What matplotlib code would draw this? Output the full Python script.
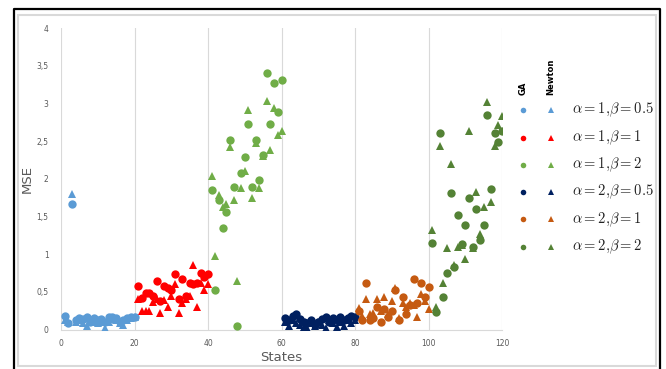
import numpy as np
import matplotlib
matplotlib.use("Agg")
import matplotlib.pyplot as plt
from matplotlib.lines import Line2D
from matplotlib.patches import Rectangle

plt.rcParams["mathtext.fontset"] = "cm"

# Parameter settings, one block of 20 states each
labels = [r"$\alpha{=}1{,}\beta{=}0.5$", r"$\alpha{=}1{,}\beta{=}1$", r"$\alpha{=}1{,}\beta{=}2$",
          r"$\alpha{=}2{,}\beta{=}0.5$", r"$\alpha{=}2{,}\beta{=}1$", r"$\alpha{=}2{,}\beta{=}2$"]
colors = ["#5B9BD5", "#FF0000", "#70AD47", "#002060", "#C55A11", "#548235"]

ga_a1_b05 = [0.18, 0.08, 1.66, 0.12, 0.15, 0.14, 0.16, 0.10, 0.15, 0.13,
             0.14, 0.10, 0.16, 0.17, 0.15, 0.10, 0.13, 0.15, 0.17, 0.16]
nt_a1_b05 = [0.12, 0.10, 1.80, 0.10, 0.12, 0.08, 0.05, 0.12, 0.10, 0.08,
             0.10, 0.02, 0.10, 0.14, 0.12, 0.08, 0.06, 0.12, 0.15, 0.16]

ga_a1_b1 = [0.58, 0.42, 0.49, 0.48, 0.45, 0.64, 0.38, 0.58, 0.55, 0.52,
            0.74, 0.40, 0.67, 0.45, 0.62, 0.60, 0.62, 0.75, 0.70, 0.74]
nt_a1_b1 = [0.41, 0.24, 0.24, 0.24, 0.36, 0.40, 0.22, 0.39, 0.30, 0.45,
            0.60, 0.22, 0.35, 0.40, 0.45, 0.86, 0.30, 0.62, 0.52, 0.60]

ga_a1_b2 = [1.85, 0.52, 1.72, 1.34, 1.56, 2.52, 1.89, 0.04, 2.07, 2.29,
            2.73, 1.89, 2.51, 1.99, 2.31, 3.40, 2.73, 3.27, 2.88, 3.31]
nt_a1_b2 = [2.03, 0.97, 1.78, 1.62, 1.67, 2.42, 1.72, 0.65, 1.88, 2.10,
            2.91, 1.74, 2.47, 1.88, 2.30, 3.03, 2.38, 2.94, 2.58, 2.63]

ga_a2_b05 = [0.15, 0.12, 0.18, 0.20, 0.14, 0.10, 0.08, 0.12, 0.06, 0.10,
             0.14, 0.16, 0.10, 0.15, 0.12, 0.17, 0.13, 0.15, 0.18, 0.16]
nt_a2_b05 = [0.10, 0.05, 0.12, 0.08, 0.06, 0.03, 0.02, 0.08, 0.04, 0.10,
             0.06, 0.02, 0.12, 0.08, 0.03, 0.10, 0.05, 0.12, 0.08, 0.12]

ga_a2_b1 = [0.25, 0.13, 0.62, 0.13, 0.15, 0.30, 0.10, 0.27, 0.16, 0.25,
            0.52, 0.13, 0.43, 0.21, 0.33, 0.67, 0.35, 0.62, 0.43, 0.57]
nt_a2_b1 = [0.28, 0.18, 0.41, 0.20, 0.22, 0.40, 0.25, 0.43, 0.20, 0.38,
            0.55, 0.15, 0.35, 0.30, 0.35, 0.32, 0.16, 0.47, 0.38, 0.27]

ga_a2_b2 = [1.15, 0.23, 2.61, 0.43, 0.75, 1.81, 0.83, 1.52, 1.13, 1.39,
            1.74, 1.10, 1.60, 1.19, 1.39, 2.85, 1.86, 2.61, 2.49, 2.64]
nt_a2_b2 = [1.32, 0.30, 2.44, 0.62, 1.08, 2.20, 0.85, 1.09, 1.12, 0.93,
            2.63, 1.08, 1.83, 1.27, 1.62, 3.02, 1.69, 2.44, 2.71, 2.83]

ga_series = [ga_a1_b05, ga_a1_b1, ga_a1_b2, ga_a2_b05, ga_a2_b1, ga_a2_b2]
nt_series = [nt_a1_b05, nt_a1_b1, nt_a1_b2, nt_a2_b05, nt_a2_b1, nt_a2_b2]

x_ticks = [0, 20, 40, 60, 80, 100, 120]
y_ticks = [0, 0.5, 1, 1.5, 2, 2.5, 3, 3.5, 4]
y_tick_labels = ["0", "0,5", "1", "1,5", "2", "2,5", "3", "3,5", "4"]

W, H = 666, 369
fig = plt.figure(figsize=(W / 100, H / 100), dpi=100)
fig.patch.set_facecolor("white")

def fx(px):
    return px / W

def fy(py):
    return 1 - py / H

ax = fig.add_axes([fx(61), fy(329.5), fx(502) - fx(61), fy(28) - fy(329.5)])

for i in range(6):
    states = np.arange(1, 21) + 20 * i
    ax.plot(states, nt_series[i], linestyle="none", marker="^", markersize=6.3,
            color=colors[i], markeredgewidth=0, zorder=3)
    ax.plot(states, ga_series[i], linestyle="none", marker="o", markersize=6.0,
            color=colors[i], markeredgewidth=0, zorder=3)

ax.set_xlim(0, 120)
ax.set_ylim(0, 4)
ax.set_xticks(x_ticks)
ax.set_yticks(y_ticks)
ax.set_yticklabels(y_tick_labels)
ax.tick_params(length=0, labelsize=5.5, labelcolor="#595959")
ax.tick_params(axis="x", pad=7)
ax.tick_params(axis="y", pad=9)
ax.grid(axis="x", color="#D9D9D9", linewidth=0.8)
ax.set_axisbelow(True)
for side in ["top", "right", "left"]:
    ax.spines[side].set_visible(False)
ax.spines["bottom"].set_color("#D9D9D9")
ax.spines["bottom"].set_linewidth(0.8)

ax.set_xlabel("States", fontsize=9.5, color="#595959", labelpad=2)
ax.set_ylabel("MSE", fontsize=9.5, color="#595959", labelpad=2)

# Legend: column headers and one row per parameter setting
fig.text(fx(523), fy(95), "GA", rotation=90, fontsize=6, fontweight="bold",
         ha="center", va="bottom")
fig.text(fx(551), fy(95), "Newton", rotation=90, fontsize=6, fontweight="bold",
         ha="center", va="bottom")
row_y = [110, 137.5, 165, 192, 219.5, 247]
for i in range(6):
    fig.add_artist(Line2D([fx(523)], [fy(row_y[i])], marker="o", markersize=4,
                          color=colors[i], markeredgewidth=0, transform=fig.transFigure))
    fig.add_artist(Line2D([fx(551)], [fy(row_y[i])], marker="^", markersize=4.2,
                          color=colors[i], markeredgewidth=0, transform=fig.transFigure))
    fig.text(fx(572), fy(row_y[i]), labels[i], fontsize=10.5, ha="left", va="center",
             color="#222222")

# Chart border
fig.add_artist(Rectangle((fx(18), fy(366)), fx(656) - fx(18), fy(15) - fy(366),
                         transform=fig.transFigure, fill=False,
                         edgecolor="#D9D9D9", linewidth=1.5))
fig.add_artist(Line2D([fx(14.5), fx(14.5), fx(659.5), fx(659.5)],
                      [fy(372), fy(8.5), fy(8.5), fy(372)],
                      color="black", linewidth=1.6, transform=fig.transFigure))

fig.savefig("out.png", dpi=100)
